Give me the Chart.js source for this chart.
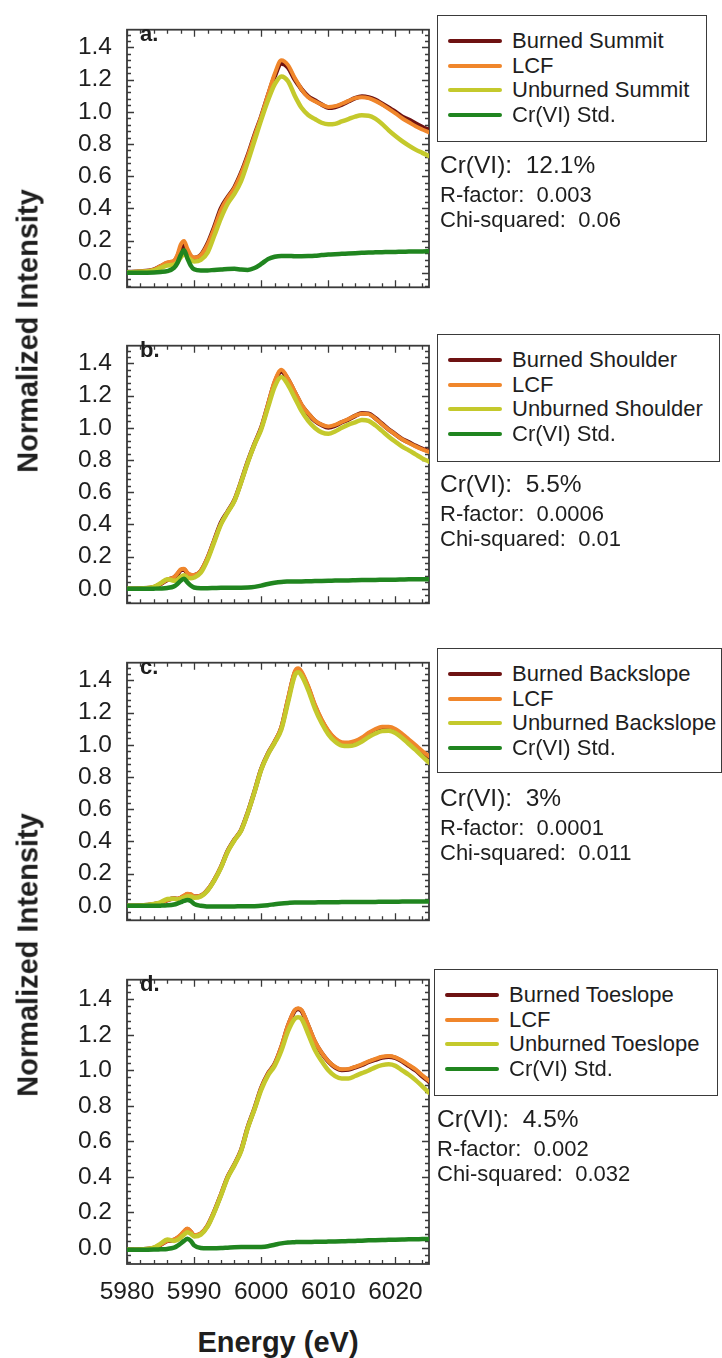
<!DOCTYPE html>
<html>
<head>
<meta charset="utf-8">
<title>Cr K-edge XANES linear combination fits</title>
<script src="https://cdn.jsdelivr.net/npm/chart.js@4.4.1/dist/chart.umd.min.js"></script>
<style>
  body { margin: 0; background: #fff; font-family: "Liberation Sans", Arial, sans-serif; color: #1e1e1e; }
  #page { position: relative; width: 722px; height: 1358px; overflow: hidden; }
  canvas { position: absolute; left: 0; }
  .ytitle { position: absolute; font-weight: bold; font-size: 29px; line-height: 1; white-space: nowrap;
            transform: translate(-50%, -50%) rotate(-90deg); }
  .xtitle { position: absolute; font-weight: bold; font-size: 29px; line-height: 1; white-space: nowrap;
            transform: translate(-50%, -50%); }
  .letter { position: absolute; font-weight: bold; font-size: 22px; line-height: 1; }
  .lg { position: absolute; box-sizing: border-box; border: 1.5px solid #3a3a3a; background: #fff; }
  .lg .row { position: absolute; left: 0; height: 24px; line-height: 24px; font-size: 22px; white-space: nowrap; }
  .lg .sw { position: absolute; top: 10px; width: 54px; height: 4px; border-radius: 2px; }
  .lg .tx { position: absolute; top: 0; }
  .stat { position: absolute; white-space: pre; line-height: 1; }
</style>
</head>
<body>
<div id="page">
  <canvas id="panelA" width="441" height="317" style="top:0px"></canvas>
  <canvas id="panelB" width="441" height="317" style="top:316px"></canvas>
  <canvas id="panelC" width="441" height="317" style="top:633px"></canvas>
  <canvas id="panelD" width="441" height="360" style="top:950px"></canvas>

  <div class="ytitle" style="left:28px; top:331px">Normalized Intensity</div>
  <div class="ytitle" style="left:28px; top:955px">Normalized Intensity</div>
  <div class="xtitle" style="left:278px; top:1342px">Energy (eV)</div>
</div>

<script>
  // energy grid (eV), finer around the pre-edge peak
  var energy = [5980, 5982, 5984, 5985, 5986, 5987, 5987.5, 5988, 5988.5, 5989, 5989.5,
    5990, 5991, 5992, 5993, 5994, 5995, 5996, 5997, 5998, 5999, 6000, 6001, 6002, 6003, 6004, 6005,
    6005.5,
    6006, 6007, 6008, 6009, 6010, 6011, 6012, 6013, 6014, 6015, 6016, 6017, 6018, 6019, 6020,
    6021, 6022, 6023, 6024, 6025];

  // a. Summit
  var burnedA = [0.005, 0.008, 0.02, 0.04, 0.06, 0.07, 0.10, 0.15, 0.17, 0.13, 0.10,
    0.092, 0.11, 0.18, 0.285, 0.40, 0.47, 0.53, 0.62, 0.73, 0.855, 0.97, 1.10, 1.22, 1.30, 1.275, 1.20,
    1.17,
    1.14, 1.095, 1.07, 1.045, 1.025, 1.03, 1.045, 1.065, 1.085, 1.095, 1.09, 1.075, 1.05, 1.025, 1.0,
    0.97, 0.95, 0.927, 0.906, 0.886];
  var lcfA = [0.005, 0.008, 0.02, 0.042, 0.065, 0.075, 0.11, 0.175, 0.198, 0.15, 0.11,
    0.095, 0.11, 0.175, 0.275, 0.39, 0.465, 0.525, 0.615, 0.725, 0.85, 0.97, 1.105, 1.235, 1.32, 1.29, 1.21,
    1.175,
    1.14, 1.09, 1.065, 1.045, 1.03, 1.035, 1.05, 1.068, 1.085, 1.09, 1.085, 1.068, 1.045, 1.018, 0.99,
    0.96, 0.935, 0.91, 0.89, 0.872];
  var unburnedA = [0.003, 0.006, 0.015, 0.03, 0.045, 0.05, 0.065, 0.095, 0.115, 0.10, 0.08,
    0.07, 0.08, 0.125, 0.23, 0.34, 0.43, 0.49, 0.57, 0.69, 0.82, 0.95, 1.07, 1.17, 1.22, 1.19, 1.10,
    1.06,
    1.025, 0.98, 0.955, 0.932, 0.922, 0.925, 0.94, 0.955, 0.97, 0.978, 0.976, 0.958, 0.925, 0.885, 0.85,
    0.818, 0.79, 0.765, 0.745, 0.725];
  var stdA = [0, 0, 0.002, 0.005, 0.01, 0.03, 0.06, 0.11, 0.14, 0.09, 0.045,
    0.022, 0.015, 0.015, 0.018, 0.02, 0.024, 0.025, 0.02, 0.018, 0.03, 0.055, 0.085, 0.1, 0.105, 0.105, 0.103,
    0.103,
    0.103, 0.104, 0.106, 0.11, 0.113, 0.116, 0.118, 0.12, 0.122, 0.124, 0.126, 0.127, 0.128, 0.129, 0.13,
    0.131, 0.132, 0.133, 0.133, 0.134];

  // b. Shoulder
  var burnedB = [0, 0.002, 0.01, 0.03, 0.055, 0.07, 0.09, 0.115, 0.12, 0.095, 0.085,
    0.085, 0.11, 0.19, 0.30, 0.41, 0.48, 0.55, 0.665, 0.79, 0.90, 1.0, 1.14, 1.28, 1.35, 1.30, 1.22,
    1.18,
    1.14, 1.088, 1.043, 1.017, 1.002, 1.013, 1.034, 1.052, 1.074, 1.09, 1.088, 1.06, 1.025, 0.99, 0.96,
    0.93, 0.91, 0.888, 0.87, 0.855];
  var lcfB = [0, 0.002, 0.01, 0.032, 0.057, 0.072, 0.095, 0.12, 0.125, 0.1, 0.088,
    0.086, 0.112, 0.192, 0.30, 0.405, 0.478, 0.55, 0.665, 0.79, 0.9, 1.0, 1.145, 1.29, 1.36, 1.305, 1.225,
    1.185,
    1.145, 1.09, 1.045, 1.02, 1.008, 1.018, 1.036, 1.055, 1.075, 1.088, 1.085, 1.058, 1.022, 0.988, 0.958,
    0.928, 0.906, 0.885, 0.866, 0.85];
  var unburnedB = [0, 0.002, 0.012, 0.035, 0.06, 0.05, 0.055, 0.075, 0.085, 0.07, 0.065,
    0.07, 0.1, 0.18, 0.29, 0.40, 0.475, 0.545, 0.66, 0.785, 0.895, 0.99, 1.125, 1.255, 1.316, 1.266, 1.186,
    1.145,
    1.105, 1.043, 0.999, 0.972, 0.963, 0.977, 1.0, 1.02, 1.034, 1.049, 1.043, 1.016, 0.981, 0.945, 0.913,
    0.883, 0.86, 0.835, 0.81, 0.79];
  var stdB = [0, 0, 0.001, 0.002, 0.005, 0.015, 0.03, 0.05, 0.062, 0.04, 0.02,
    0.008, 0.004, 0.004, 0.005, 0.006, 0.006, 0.007, 0.007, 0.008, 0.012, 0.02, 0.03, 0.038, 0.043, 0.045, 0.046,
    0.046,
    0.046, 0.047, 0.048, 0.049, 0.05, 0.051, 0.052, 0.052, 0.053, 0.054, 0.055, 0.055, 0.056, 0.057, 0.057,
    0.058, 0.059, 0.059, 0.06, 0.06];

  // c. Backslope
  var burnedC = [0, 0.002, 0.01, 0.018, 0.036, 0.046, 0.042, 0.048, 0.06, 0.07, 0.068,
    0.056, 0.062, 0.098, 0.16, 0.24, 0.34, 0.41, 0.47, 0.58, 0.71, 0.85, 0.945, 1.017, 1.105, 1.28, 1.445,
    1.465,
    1.445, 1.355, 1.24, 1.15, 1.08, 1.034, 1.01, 1.008, 1.017, 1.038, 1.067, 1.09, 1.105, 1.105, 1.09,
    1.06, 1.025, 0.99, 0.954, 0.924];
  var lcfC = [0, 0.002, 0.01, 0.018, 0.036, 0.046, 0.044, 0.052, 0.064, 0.075, 0.072,
    0.058, 0.064, 0.1, 0.162, 0.242, 0.34, 0.41, 0.47, 0.58, 0.71, 0.85, 0.945, 1.02, 1.11, 1.29, 1.455,
    1.475,
    1.455, 1.365, 1.25, 1.158, 1.088, 1.04, 1.016, 1.014, 1.024, 1.045, 1.075, 1.098, 1.112, 1.112, 1.098,
    1.068, 1.033, 0.998, 0.962, 0.93];
  var unburnedC = [0, 0.002, 0.012, 0.022, 0.042, 0.044, 0.04, 0.044, 0.052, 0.06, 0.058,
    0.05, 0.058, 0.094, 0.156, 0.236, 0.336, 0.406, 0.466, 0.576, 0.706, 0.845, 0.94, 1.012, 1.095, 1.265, 1.43,
    1.45,
    1.43, 1.34, 1.225, 1.135, 1.065, 1.02, 0.995, 0.992, 1.0, 1.02, 1.048, 1.07, 1.085, 1.087, 1.073,
    1.043, 1.005, 0.968, 0.928, 0.89];
  var stdC = [0, 0, 0, 0.001, 0.003, 0.008, 0.014, 0.022, 0.03, 0.036, 0.03,
    0.012, 0, -0.004, -0.005, -0.005, -0.004, -0.004, -0.003, -0.003, -0.002, 0, 0.004, 0.01, 0.015, 0.018, 0.02,
    0.02,
    0.021, 0.021, 0.021, 0.022, 0.022, 0.022, 0.023, 0.023, 0.023, 0.024, 0.024, 0.024, 0.025, 0.025, 0.025,
    0.026, 0.026, 0.026, 0.027, 0.027];

  // d. Toeslope
  var burnedD = [-0.01, -0.008, 0, 0.018, 0.04, 0.045, 0.055, 0.07, 0.09, 0.105, 0.09,
    0.07, 0.08, 0.125, 0.205, 0.30, 0.40, 0.47, 0.55, 0.68, 0.785, 0.90, 0.98, 1.035, 1.13, 1.25, 1.335,
    1.345,
    1.335, 1.25, 1.16, 1.097, 1.05, 1.017, 1.002, 1.004, 1.017, 1.03, 1.047, 1.06, 1.072, 1.077, 1.07,
    1.05, 1.025, 1.0, 0.967, 0.936];
  var lcfD = [-0.01, -0.008, 0, 0.018, 0.04, 0.047, 0.058, 0.075, 0.095, 0.11, 0.094,
    0.072, 0.082, 0.127, 0.207, 0.302, 0.40, 0.47, 0.55, 0.68, 0.785, 0.90, 0.98, 1.035, 1.135, 1.255, 1.34,
    1.35,
    1.34, 1.255, 1.165, 1.1, 1.052, 1.02, 1.006, 1.008, 1.02, 1.034, 1.05, 1.064, 1.076, 1.08, 1.073,
    1.054, 1.03, 1.005, 0.972, 0.942];
  var unburnedD = [-0.01, -0.008, 0.002, 0.025, 0.048, 0.04, 0.045, 0.058, 0.075, 0.088, 0.08,
    0.065, 0.075, 0.12, 0.2, 0.295, 0.395, 0.465, 0.545, 0.675, 0.78, 0.89, 0.97, 1.025, 1.11, 1.22, 1.29,
    1.298,
    1.29, 1.204, 1.115, 1.052, 1.0, 0.967, 0.954, 0.954, 0.968, 0.984, 0.999, 1.017, 1.029, 1.034, 1.025,
    1.0, 0.975, 0.945, 0.91, 0.874];
  var stdD = [-0.01, -0.01, -0.009, -0.007, -0.005, 0.002, 0.012, 0.025, 0.04, 0.052, 0.04,
    0.015, 0, -0.002, -0.001, 0, 0.002, 0.004, 0.005, 0.005, 0.005, 0.006, 0.01, 0.018, 0.026, 0.031, 0.033,
    0.034,
    0.034, 0.034, 0.035, 0.035, 0.036, 0.037, 0.038, 0.039, 0.04, 0.041, 0.043, 0.044, 0.045, 0.046, 0.047,
    0.048, 0.049, 0.049, 0.05, 0.05];

  // legend / fit statistics
  var sites = ["Summit", "Shoulder", "Backslope", "Toeslope"];
  var panelLetters = ["a.", "b.", "c.", "d."];
  var crVI = ["12.1%", "5.5%", "3%", "4.5%"];
  var rFactor = ["0.003", "0.0006", "0.0001", "0.002"];
  var chiSq = ["0.06", "0.01", "0.011", "0.032"];

  // labelled axis ticks
  var xMajor = [5980, 5990, 6000, 6010, 6020];
  var yMajor = [0, 0.2, 0.4, 0.6, 0.8, 1.0, 1.2, 1.4];

  var colBurned = "#6e1212";
  var colLcf = "#f0862b";
  var colUnburned = "#c4c92c";
  var colStd = "#20851f";

  Chart.defaults.font.family = "'Liberation Sans', Arial, sans-serif";
  Chart.defaults.color = "#1e1e1e";

  function pairs(vals) {
    return vals.map(function (v, i) { return { x: energy[i], y: v }; });
  }

  // frame on all four sides with inward major/minor ticks
  var frameTicks = {
    id: "frameTicks",
    beforeDatasetsDraw: function (chart) {
      var ctx = chart.ctx, a = chart.chartArea, xs = chart.scales.x, ys = chart.scales.y;
      ctx.save();
      ctx.strokeStyle = "#3a3a3a";
      ctx.lineWidth = 1.3;
      ctx.beginPath();
      for (var k = 0; 5980 + 2 * k <= 6025; k++) {
        var e = 5980 + 2 * k;
        var len = (k % 5 === 0) ? 7 : 4;
        var px = Math.round(xs.getPixelForValue(e)) + 0.5;
        ctx.moveTo(px, a.bottom); ctx.lineTo(px, a.bottom - len);
        ctx.moveTo(px, a.top); ctx.lineTo(px, a.top + len);
      }
      for (var j = -2; j * 0.04 <= 1.5; j++) {
        var v = j * 0.04;
        var ylen = (j % 5 === 0) ? 7 : 4;
        var py = Math.round(ys.getPixelForValue(v)) + 0.5;
        ctx.moveTo(a.left, py); ctx.lineTo(a.left + ylen, py);
        ctx.moveTo(a.right, py); ctx.lineTo(a.right - ylen, py);
      }
      ctx.stroke();
      ctx.lineWidth = 1.8;
      ctx.strokeRect(a.left, a.top, a.right - a.left, a.bottom - a.top);
      ctx.restore();
    }
  };

  function makePanel(id, idx, burned, lcf, unburned, std, showX) {
    return new Chart(document.getElementById(id), {
      type: "line",
      data: {
        datasets: [
          { label: "Burned " + sites[idx], data: pairs(burned), borderColor: colBurned, borderWidth: 4.5, order: 3 },
          { label: "LCF", data: pairs(lcf), borderColor: colLcf, borderWidth: 4, order: 2 },
          { label: "Unburned " + sites[idx], data: pairs(unburned), borderColor: colUnburned, borderWidth: 4.5, order: 1 },
          { label: "Cr(VI) Std.", data: pairs(std), borderColor: colStd, borderWidth: 4.5, order: 0 }
        ]
      },
      options: {
        responsive: false,
        animation: false,
        layout: { padding: { top: 15, right: 12, bottom: showX ? 0 : 3, left: 0 } },
        plugins: { legend: { display: false }, tooltip: { enabled: false } },
        elements: {
          point: { radius: 0 },
          line: { cubicInterpolationMode: "monotone", fill: false, borderCapStyle: "round", borderJoinStyle: "round" }
        },
        scales: {
          x: {
            type: "linear", min: 5980, max: 6025,
            grid: { display: false, drawTicks: false }, border: { display: false },
            afterBuildTicks: function (s) { s.ticks = xMajor.map(function (v) { return { value: v }; }); },
            ticks: {
              display: showX, autoSkip: false, maxRotation: 0, padding: 14,
              font: { size: 24.5 }, color: "#1e1e1e",
              callback: function (v) { return String(v); }
            },
            afterFit: function (s) { s.height = showX ? 46 : 0; }
          },
          y: {
            type: "linear", min: -0.09, max: 1.51,
            grid: { display: false, drawTicks: false }, border: { display: false },
            afterBuildTicks: function (s) { s.ticks = yMajor.map(function (v) { return { value: v }; }); },
            ticks: {
              autoSkip: false, padding: 15,
              font: { size: 24.5 }, color: "#1e1e1e",
              callback: function (v) { return v.toFixed(1); }
            },
            afterFit: function (s) { s.width = 127; }
          }
        }
      },
      plugins: [frameTicks]
    });
  }

  makePanel("panelA", 0, burnedA, lcfA, unburnedA, stdA, false);
  makePanel("panelB", 1, burnedB, lcfB, unburnedB, stdB, false);
  makePanel("panelC", 2, burnedC, lcfC, unburnedC, stdC, false);
  makePanel("panelD", 3, burnedD, lcfD, unburnedD, stdD, true);

  // legends, panel letters and fit statistics
  var frameTop = [15, 331, 648, 965];
  var boxLeft = [437, 437, 437, 434];
  var boxTop = [15, 334, 648, 969];
  var boxWidth = [270, 283, 285, 284];
  var boxHeight = [127, 128, 125, 127];
  var page = document.getElementById("page");

  function addDiv(cls, css, text) {
    var d = document.createElement("div");
    d.className = cls;
    d.style.cssText = css;
    if (text !== undefined) d.textContent = text;
    page.appendChild(d);
    return d;
  }

  for (var p = 0; p < 4; p++) {
    addDiv("letter", "left:140px; top:" + (frameTop[p] + 8) + "px", panelLetters[p]);

    var box = addDiv("lg", "left:" + boxLeft[p] + "px; top:" + boxTop[p] + "px; width:" + boxWidth[p] + "px; height:" + boxHeight[p] + "px");
    var labels = ["Burned " + sites[p], "LCF", "Unburned " + sites[p], "Cr(VI) Std."];
    var cols = [colBurned, colLcf, colUnburned, colStd];
    for (var r = 0; r < 4; r++) {
      var row = document.createElement("div");
      row.className = "row";
      row.style.top = (13 + r * 24.5) + "px";
      row.style.width = "100%";
      var sw = document.createElement("div");
      sw.className = "sw";
      sw.style.left = "9.5px";
      sw.style.background = cols[r];
      var tx = document.createElement("div");
      tx.className = "tx";
      tx.style.left = "74px";
      tx.textContent = labels[r];
      row.appendChild(sw);
      row.appendChild(tx);
      box.appendChild(row);
    }

    var sx = boxLeft[p] + 3;
    addDiv("stat", "left:" + sx + "px; top:" + (boxTop[p] + 150 - 12) + "px; font-size:24.5px", "Cr(VI):  " + crVI[p]);
    addDiv("stat", "left:" + sx + "px; top:" + (boxTop[p] + 180 - 11) + "px; font-size:22px", "R-factor:  " + rFactor[p]);
    addDiv("stat", "left:" + sx + "px; top:" + (boxTop[p] + 205 - 11) + "px; font-size:22px", "Chi-squared:  " + chiSq[p]);
  }
</script>
</body>
</html>
